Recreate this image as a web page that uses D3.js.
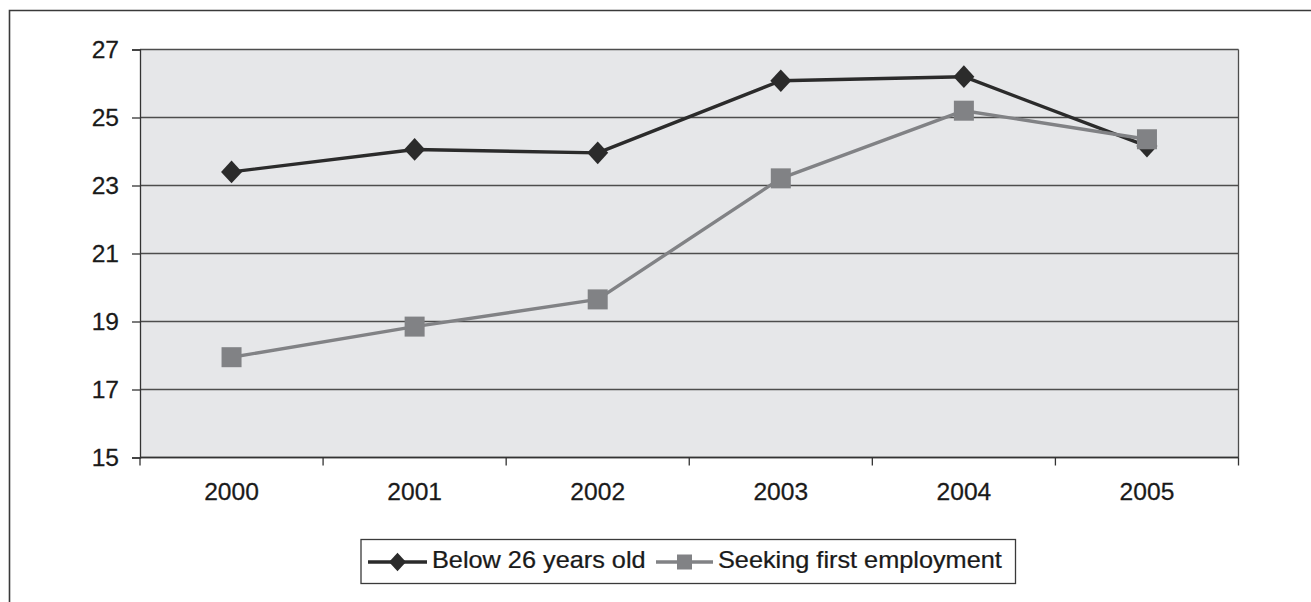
<!DOCTYPE html>
<html>
<head>
<meta charset="utf-8">
<script src="https://cdn.jsdelivr.net/npm/d3@7"></script>
<style>
  html, body { margin: 0; padding: 0; background: #fff; }
  svg { display: block; font-family: "Liberation Sans", Arial, sans-serif; }
</style>
</head>
<body>
<svg id="chart" width="1311" height="602"></svg>
<script>
// Years on the category axis
const years = ["2000", "2001", "2002", "2003", "2004", "2005"];
// Share (%) for each group, per year
const below26 = [23.4, 24.06, 23.96, 26.08, 26.2, 24.16];
const seekingFirst = [17.95, 18.85, 19.65, 23.21, 25.2, 24.36];
// Value axis ticks
const yTicks = [15, 17, 19, 21, 23, 25, 27];

const seriesList = [
  { name: "Below 26 years old", values: below26, color: "#2b2b2b", marker: "diamond" },
  { name: "Seeking first employment", values: seekingFirst, color: "#818285", marker: "square" }
];

const svg = d3.select("#chart");
const plot = { left: 140, right: 1238.5, top: 49.5, bottom: 457.5 };
const fontSize = 23;
const textColor = "#1a1a1a";

// Text drawn with a slight horizontal stretch
function label(g, px, py, str, anchor, stretch) {
  return g.append("text")
    .attr("transform", `translate(${px},${py}) scale(${stretch},1)`)
    .attr("text-anchor", anchor)
    .attr("font-size", fontSize)
    .attr("fill", textColor)
    .attr("stroke", textColor).attr("stroke-width", 0.25)
    .text(str);
}

// Outer frame (runs off the right and bottom edges)
svg.append("path")
  .attr("d", "M9.5,602 L9.5,10.5 L1311,10.5")
  .attr("fill", "none").attr("stroke", "#3a3a3a").attr("stroke-width", 1.6);

const x = d3.scaleBand().domain(years).range([plot.left, plot.right]);
const y = d3.scaleLinear().domain([15, 27]).range([plot.bottom, plot.top]);

// Plot background
svg.append("rect")
  .attr("x", plot.left).attr("y", plot.top)
  .attr("width", plot.right - plot.left).attr("height", plot.bottom - plot.top)
  .attr("fill", "#e6e7e9");

// Horizontal gridlines
svg.append("g").selectAll("line").data(yTicks).join("line")
  .attr("x1", plot.left).attr("x2", plot.right)
  .attr("y1", d => y(d)).attr("y2", d => y(d))
  .attr("stroke", "#4d4d4d").attr("stroke-width", 1.3);

// Right edge of the plot
svg.append("line")
  .attr("x1", plot.right).attr("x2", plot.right)
  .attr("y1", plot.top).attr("y2", plot.bottom)
  .attr("stroke", "#4d4d4d").attr("stroke-width", 1.3);

// Y axis: line and ticks from d3, labels drawn separately
const yAxis = svg.append("g")
  .attr("transform", `translate(${plot.left},0)`)
  .call(d3.axisLeft(y).tickValues(yTicks).tickSize(8).tickFormat(""));
yAxis.select(".domain").attr("stroke", "#333").attr("stroke-width", 1.3);
yAxis.selectAll(".tick line").attr("stroke", "#333").attr("stroke-width", 1.3);
const yLabels = svg.append("g");
yTicks.forEach(t => label(yLabels, 119, y(t) + 8, String(t), "end", 1.07));

// X axis: tick marks sit on the category boundaries
const xAxisG = svg.append("g").attr("transform", `translate(0,${plot.bottom})`);
xAxisG.append("line")
  .attr("x1", plot.left).attr("x2", plot.right)
  .attr("stroke", "#333").attr("stroke-width", 1.3);
const boundaries = years.map(d => x(d)).concat([x(years[years.length - 1]) + x.bandwidth()]);
xAxisG.selectAll("line.tk").data(boundaries).join("line").attr("class", "tk")
  .attr("x1", d => d).attr("x2", d => d).attr("y1", 0).attr("y2", 8)
  .attr("stroke", "#333").attr("stroke-width", 1.3);
years.forEach(d => label(xAxisG, x(d) + x.bandwidth() / 2, 42, d, "middle", 1.07));

const cx = d => x(d) + x.bandwidth() / 2;
const line = d3.line().x((v, i) => cx(years[i])).y(v => y(v));

function drawMarker(g, type, color, px, py, size) {
  const h = size / 2;
  if (type === "diamond") {
    g.append("path")
      .attr("d", `M${px},${py - h * 1.08} L${px + h},${py} L${px},${py + h * 1.08} L${px - h},${py} Z`)
      .attr("fill", color);
  } else {
    g.append("rect")
      .attr("x", px - h).attr("y", py - h).attr("width", size).attr("height", size)
      .attr("fill", color);
  }
}

// Series lines and markers
seriesList.forEach(s => {
  const g = svg.append("g");
  g.append("path").datum(s.values)
    .attr("d", line).attr("fill", "none")
    .attr("stroke", s.color).attr("stroke-width", 3.4)
    .attr("stroke-linejoin", "round");
  s.values.forEach((v, i) => drawMarker(g, s.marker, s.color, cx(years[i]), y(v), s.marker === "diamond" ? 21 : 20));
});

// Legend
const legend = svg.append("g");
legend.append("rect")
  .attr("x", 361).attr("y", 539.5).attr("width", 654.5).attr("height", 44)
  .attr("fill", "#fff").attr("stroke", "#3a3a3a").attr("stroke-width", 1.3);
const legendItems = [
  { s: seriesList[0], x0: 368, x1: 427, tx: 432 },
  { s: seriesList[1], x0: 656, x1: 713, tx: 718 }
];
legendItems.forEach(it => {
  legend.append("line")
    .attr("x1", it.x0).attr("x2", it.x1).attr("y1", 562).attr("y2", 562)
    .attr("stroke", it.s.color).attr("stroke-width", 3.4);
  drawMarker(legend, it.s.marker, it.s.color, (it.x0 + it.x1) / 2, 562, it.s.marker === "diamond" ? 17 : 15);
  label(legend, it.tx, 568, it.s.name, "start", 1.1);
});
</script>
</body>
</html>
